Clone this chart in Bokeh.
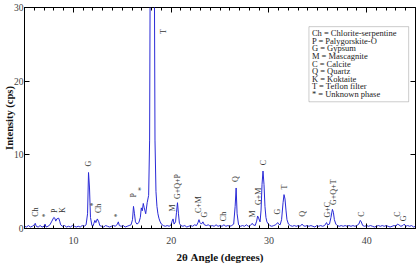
import math
from bokeh.plotting import figure
from bokeh.models import (LinearAxis, SingleIntervalTicker, FixedTicker, ColumnDataSource,
                          BoxAnnotation, Label, CustomJSTickFormatter)
from bokeh.core.properties import value
from bokeh.embed import file_html
from bokeh.resources import INLINE

# ---- XRD trace (2-theta degrees, intensity cps) ----
angle = [5.0, 5.2, 5.4, 5.6, 5.8, 6.0, 6.1, 6.2, 6.4, 6.6, 6.8, 7.0, 7.1, 7.2, 7.4, 7.6, 7.8, 8.0, 8.1, 8.2,
         8.3, 8.5, 8.6, 8.7, 8.9, 9.1, 9.3, 9.5, 9.7, 9.9, 10.1, 10.3, 10.5, 10.7, 10.9, 11.1, 11.3, 11.45, 11.55, 11.65,
         11.75, 11.9, 12.0, 12.1, 12.2, 12.3, 12.45, 12.6, 12.7, 12.9, 13.1, 13.3, 13.5, 13.7, 13.9, 14.1, 14.3, 14.5, 14.6, 14.7,
         14.9, 15.1, 15.3, 15.5, 15.7, 15.9, 16.05, 16.15, 16.25, 16.35, 16.5, 16.7, 16.85, 16.95, 17.05, 17.15, 17.25, 17.4, 17.55, 17.7,
         17.8, 17.87, 18.27, 18.35, 18.45, 18.55, 18.65, 18.75, 18.85, 19.0, 19.2, 19.4, 19.6, 19.8, 20.0, 20.1, 20.2, 20.3,
         20.45, 20.55, 20.65, 20.75, 20.85, 21.0, 21.2, 21.4, 21.6, 21.8, 22.0, 22.2, 22.4, 22.6, 22.75, 22.85, 22.95, 23.1, 23.25, 23.4,
         23.6, 23.8, 24.0, 24.2, 24.4, 24.6, 24.8, 25.0, 25.2, 25.4, 25.6, 25.8, 26.0, 26.2, 26.4, 26.55, 26.65, 26.75, 26.9, 27.1,
         27.3, 27.5, 27.7, 27.9, 28.1, 28.3, 28.4, 28.6, 28.75, 28.85, 28.95, 29.1, 29.2, 29.3, 29.4, 29.5, 29.6, 29.7, 29.8, 29.95,
         30.1, 30.3, 30.5, 30.7, 30.9, 31.0, 31.15, 31.3, 31.45, 31.55, 31.65, 31.75, 31.85, 32.0, 32.2, 32.4, 32.6, 32.8, 33.0, 33.2,
         33.4, 33.5, 33.7, 33.9, 34.1, 34.3, 34.5, 34.7, 34.9, 35.1, 35.3, 35.5, 35.7, 35.9, 36.0, 36.2, 36.35, 36.5, 36.6, 36.7,
         36.85, 37.0, 37.2, 37.4, 37.6, 37.8, 38.0, 38.2, 38.4, 38.6, 38.8, 39.0, 39.2, 39.35, 39.45, 39.6, 39.8, 40.0, 40.2, 40.4,
         40.6, 40.8, 41.0, 41.2, 41.4, 41.6, 41.8, 42.0, 42.2, 42.4, 42.6, 42.8, 43.0, 43.15, 43.3, 43.5, 43.7, 43.85, 44.0, 44.2,
         44.4, 44.6, 44.8, 45.0]
intensity = [0.3, 0.2, 0.4, 0.2, 0.3, 0.5, 0.7, 0.3, 0.2, 0.4, 0.2, 0.3, 0.6, 0.2, 0.3, 0.5, 1.0, 1.5, 1.4, 1.0,
             1.3, 1.4, 1.0, 0.5, 0.3, 0.4, 0.2, 0.3, 0.2, 0.4, 0.3, 0.2, 0.3, 0.2, 0.4, 0.3, 0.5, 2.0, 7.6, 5.5,
             1.5, 0.4, 0.3, 0.7, 1.1, 0.8, 1.3, 0.9, 0.4, 0.3, 0.2, 0.4, 0.3, 0.2, 0.3, 0.4, 0.3, 0.6, 0.9, 0.4,
             0.3, 0.4, 0.2, 0.3, 0.4, 0.5, 1.2, 3.0, 2.0, 0.9, 0.6, 0.8, 1.5, 2.8, 2.4, 3.4, 2.8, 2.0, 3.5, 4.5,
             12.0, 40.0, 40.0, 12.0, 5.0, 3.0, 2.0, 1.4, 1.0, 0.6, 0.4, 0.3, 0.4, 0.3, 0.5, 1.0, 1.3, 0.6,
             0.9, 2.2, 3.5, 2.0, 0.7, 0.4, 0.3, 0.4, 0.2, 0.3, 0.4, 0.3, 0.5, 0.4, 0.8, 1.2, 0.8, 0.6, 0.9, 0.5,
             0.4, 0.5, 0.3, 0.4, 0.3, 0.5, 0.3, 0.4, 0.3, 0.5, 0.3, 0.4, 0.3, 0.4, 0.6, 3.0, 5.5, 2.0, 0.5, 0.3,
             0.4, 0.3, 0.5, 0.3, 0.4, 0.7, 0.5, 0.4, 1.0, 1.7, 1.4, 0.9, 2.5, 6.0, 7.8, 6.0, 3.0, 1.5, 0.9, 0.6,
             0.4, 0.3, 0.4, 0.5, 0.8, 0.6, 0.5, 1.2, 3.5, 4.6, 4.0, 2.5, 1.2, 0.6, 0.4, 0.3, 0.4, 0.3, 0.4, 0.3,
             0.6, 0.4, 0.3, 0.4, 0.3, 0.4, 0.3, 0.2, 0.4, 0.3, 0.4, 0.3, 0.4, 0.8, 0.5, 0.6, 1.5, 2.6, 2.2, 1.2,
             0.6, 0.4, 0.3, 0.4, 0.3, 0.4, 0.3, 0.4, 0.3, 0.4, 0.3, 0.4, 0.6, 1.1, 0.9, 0.4, 0.3, 0.4, 0.3, 0.4,
             0.3, 0.2, 0.3, 0.4, 0.3, 0.4, 0.3, 0.4, 0.3, 0.2, 0.3, 0.4, 0.3, 0.6, 0.5, 0.3, 0.4, 0.6, 0.3, 0.4,
             0.3, 0.4, 0.2, 0.3]

# ---- peak labels ----
peak_text = ["Ch", "*", "P", "K", "G", "*", "Ch", "*", "P", "*", "T", "M", "G+Q+P", "C+M", "G",
             "Ch", "Q", "M", "G+M", "C", "G", "T", "Q", "G+C", "G+Q+T", "C", "C", "G"]
peak_x = [6.1, 7.1, 8.1, 8.9, 11.55, 12.1, 12.6, 14.5, 16.1, 17.0, 19.2, 20.15, 20.65, 22.85, 23.45,
          25.4, 26.6, 28.3, 28.9, 29.4, 30.9, 31.6, 33.4, 36.0, 36.65, 39.5, 43.2, 43.8]
peak_y = [1.6, 1.5, 2.1, 2.1, 8.4, 3.0, 2.1, 1.5, 4.2, 5.1, 26.4, 2.3, 4.0, 2.1, 1.5,
          1.0, 6.3, 1.5, 3.2, 8.6, 1.9, 5.3, 1.6, 1.5, 3.2, 1.6, 1.6, 1.0]

legend_lines = ["Ch = Chlorite-serpentine", "P = Palygorskite-O", "G = Gypsum", "M = Mascagnite",
                "C = Calcite", "Q = Quartz", "K = Koktaite", "T = Teflon filter", "* = Unknown phase"]

SERIF = "Liberation Serif"

p = figure(width=417, height=265, x_range=(5, 45), y_range=(0, 30),
           output_backend="svg", toolbar_location=None,
           min_border_left=0, min_border_right=2, min_border_top=7, min_border_bottom=0)
p.grid.visible = False
p.outline_line_color = "black"
p.outline_line_width = 1
p.background_fill_color = "white"
p.border_fill_color = "white"

xa = p.xaxis[0]
xa.ticker = SingleIntervalTicker(interval=10, num_minor_ticks=10)
xa.axis_label = "2θ Angle (degrees)"
ya = p.yaxis[0]
ya.ticker = FixedTicker(ticks=[0, 10, 20, 30], minor_ticks=[])
ya.axis_label = "Intensity (cps)"

for ax in (xa, ya):
    ax.major_tick_in = 5
    ax.major_tick_out = 0
    ax.minor_tick_in = 3
    ax.minor_tick_out = 0
    ax.axis_line_color = "black"
    ax.major_tick_line_color = "black"
    ax.minor_tick_line_color = "black"
    ax.major_label_text_font = SERIF
    ax.major_label_text_font_size = "10px"
    ax.major_label_text_color = "#444444"
    ax.axis_label_text_font = SERIF
    ax.axis_label_text_font_style = "bold"
    ax.axis_label_text_font_size = "11px"
    ax.axis_label_text_color = "#111111"

ya.major_label_text_font_size = "9.5px"
ya.axis_label_text_font_size = "10.5px"
xa.major_label_standoff = 8
xa.axis_label_standoff = 4
ya.major_label_standoff = 1
ya.axis_label_standoff = -4

blank = CustomJSTickFormatter(code="return ''")
top = LinearAxis(ticker=SingleIntervalTicker(interval=10, num_minor_ticks=10), formatter=blank,
                 major_tick_in=5, major_tick_out=0, minor_tick_in=3, minor_tick_out=0,
                 major_label_standoff=0, axis_line_color=None)
right = LinearAxis(ticker=FixedTicker(ticks=[0, 10, 20, 30], minor_ticks=[]), formatter=blank,
                   major_tick_in=5, major_tick_out=0, minor_tick_in=0, minor_tick_out=0,
                   major_label_standoff=0, axis_line_color=None)
p.add_layout(top, "above")
p.add_layout(right, "right")

p.line(angle, intensity, line_color="#2a2ad6", line_width=1)

src = ColumnDataSource(dict(x=peak_x, y=peak_y, t=peak_text))
p.text(x="x", y="y", text="t", source=src, angle=math.pi / 2,
       text_align="left", text_baseline="middle",
       text_font=value(SERIF), text_font_size="8px", text_color="#333333")

box = BoxAnnotation(left=34.1, right=44.3, bottom=17.2, top=27.4,
                    fill_color="white", fill_alpha=1.0,
                    line_color="#555555", line_width=1)
p.add_layout(box)
for i, s in enumerate(legend_lines):
    p.add_layout(Label(x=34.4, y=26.5 - i * 1.03, text=s, text_font=SERIF,
                       text_font_size="8.5px", text_color="#222222",
                       text_baseline="middle", text_align="left"))

open("out.html", "w").write(file_html(p, INLINE))
